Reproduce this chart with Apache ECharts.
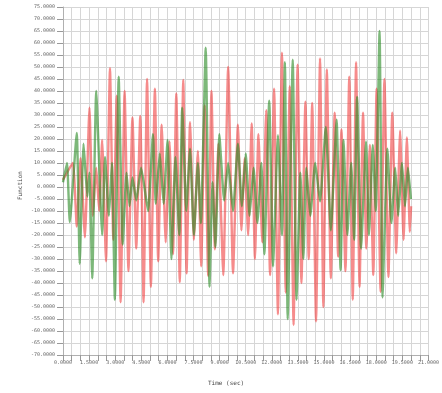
<!DOCTYPE html>
<html>
<head>
<meta charset="utf-8">
<script src="https://cdn.jsdelivr.net/npm/echarts@6/dist/echarts.min.js"></script>
<style>
  html, body { margin: 0; padding: 0; background: #ffffff; }
  #chart { width: 442px; height: 393px; }
</style>
</head>
<body>
<div id="chart"></div>
<script>
// Red response: sample times (sec) and function values
const redTime = [0.00, 0.56, 0.79, 1.01, 1.26, 1.52, 1.71, 1.91, 2.08, 2.25, 2.47, 2.70, 2.89, 3.09, 3.31,
  3.54, 3.76, 3.99, 4.21, 4.44, 4.63, 4.83, 5.05, 5.28, 5.47, 5.67, 5.90, 6.12, 6.32, 6.51, 6.71,
  6.91, 7.10, 7.30, 7.52, 7.75, 7.94, 8.14, 8.34, 8.53, 8.73, 8.93, 9.21, 9.49, 9.77, 10.05, 10.25,
  10.44, 10.64, 10.84, 11.03, 11.23, 11.45, 11.68, 11.90, 12.13, 12.35, 12.58, 12.80, 13.03, 13.25,
  13.48, 13.70, 13.93, 14.12, 14.32, 14.54, 14.77, 14.96, 15.16, 15.39, 15.61, 15.81, 16.00, 16.23,
  16.45, 16.65, 16.84, 17.04, 17.24, 17.43, 17.63, 17.83, 18.02, 18.25, 18.47, 18.70, 18.92, 19.15,
  19.37, 19.57, 19.76, 19.93, 20.00];
const redValue = [3, 10, -16.5, 12, -21, 33, -12, 8, -10, 19.6, -31, 49.5, -22, 38, -48,
  40, -35, 29, -25.6, 29.6, -48, 45, -41.6, 41, -31, 26, -23, 19, -28, 39, -39.6,
  44.6, -36, 27, -22, 15, -33, 34, -37, 40, -26, 18, -36.7, 50, -36, 26, -18,
  12, -20, 26.5, -30, 22, -23, 32, -36.7, 41, -53, 56, -44, 42, -57.5,
  51, -40, 35.5, -30, 35, -56, 53.6, -50, 49, -38, 31, -29, 24, -35,
  46, -47, 52, -41.6, 31, -25.6, 17.5, -36.7, 41, -43.7, 45, -37.5, 31, -27.6,
  23.5, -22, 20.6, -18.7, -8];

// Green response: sample times (sec) and function values
const greenTime = [0.00, 0.23, 0.39, 0.79, 0.96, 1.18, 1.40, 1.52, 1.68, 1.91, 2.25, 2.41, 2.64, 2.81,
  2.98, 3.20, 3.43, 3.65, 3.82, 3.99, 4.21, 4.49, 4.89, 5.17, 5.33, 5.56, 5.78, 6.01, 6.23, 6.46,
  6.68, 6.85, 7.08, 7.30, 7.52, 7.75, 7.92, 8.20, 8.42, 8.59, 8.76, 8.98, 9.26, 9.49, 9.77, 10.05,
  10.28, 10.50, 10.72, 10.95, 11.17, 11.40, 11.57, 11.85, 12.07, 12.35, 12.58, 12.75, 12.91, 13.20,
  13.42, 13.64, 13.81, 13.98, 14.21, 14.49, 14.77, 15.10, 15.39, 15.72, 15.95, 16.12, 16.34, 16.56,
  16.73, 16.90, 17.13, 17.41, 17.58, 17.80, 17.97, 18.19, 18.36, 18.64, 18.87, 19.09, 19.26, 19.48,
  19.65, 19.82, 19.99];
const greenValue = [2, 10, -14.6, 22.5, -32, 18, -4, 6, -38, 40, -20, 12.5, -12, 10,
  -47, 46, -24, 6, -8, 4, -5.6, 8, -10, 22, -7, 14, -7, 19.6, -30, 12.5,
  -20, 33, -10, 16, -20, 10, -15, 58, -41.6, 2, -25, 22, -5.6, 10, -10, 18,
  -8, 14, -12, 8, -15, 10, -28, 36, -33, 21.6, -20, 52, -55, 53,
  -47, 6, -30, 8, -12, 10, -6, 25, -18, 28, -34.6, 19.6, -20, 10,
  -22, 37.5, -25.6, 19, -20, 17.5, -10, 65, -46, 16, -15, 8, -12, 10,
  -8, 8, -5];

// Axis ranges and tick steps
const xMin = 0, xMax = 21, xStep = 1.5;
const yMin = -70, yMax = 75, yStep = 5;
const xTitle = 'Time (sec)';
const yTitle = 'Function';

const pairs = (ts, vs) => ts.map((t, i) => [t, vs[i]]);

const labelFont = { fontFamily: 'DejaVu Sans Mono', fontSize: 5, color: '#666' };
const gridLine = { lineStyle: { color: '#d6d6d6', width: 1 } };
const axisLine = { lineStyle: { color: '#b0b0b0', width: 1 } };

const chart = echarts.init(document.getElementById('chart'), null, { renderer: 'canvas' });
chart.setOption({
  backgroundColor: '#ffffff',
  animation: false,
  grid: { left: 63, right: 5, top: 7, bottom: 38, containLabel: false },
  xAxis: {
    type: 'value', min: xMin, max: xMax, interval: xStep,
    axisLine: { show: true, onZero: false, ...axisLine },
    axisTick: { show: true, length: 6, lineStyle: { color: '#999' } },
    minorTick: { show: true, splitNumber: 3, length: 6, lineStyle: { color: '#999' } },
    splitLine: { show: true, ...gridLine },
    minorSplitLine: { show: true, ...gridLine },
    axisLabel: { ...labelFont, margin: 5, formatter: v => v.toFixed(4) }
  },
  yAxis: {
    type: 'value', min: yMin, max: yMax, interval: yStep,
    axisLine: { show: true, onZero: false, ...axisLine },
    axisTick: { show: true, length: 6, lineStyle: { color: '#999' } },
    splitLine: { show: true, ...gridLine },
    axisLabel: { ...labelFont, margin: 8, formatter: v => v.toFixed(4) }
  },
  graphic: [
    { type: 'text', left: 208, top: 380,
      style: { text: xTitle, fontFamily: 'DejaVu Sans Mono', fontSize: 6, fill: '#444' } },
    { type: 'text', x: 17, y: 200, rotation: Math.PI / 2,
      style: { text: yTitle, fontFamily: 'DejaVu Sans Mono', fontSize: 6, fill: '#444' } }
  ],
  series: [
    {
      name: 'red', type: 'line', data: pairs(redTime, redValue),
      showSymbol: false, smooth: 0.15,
      lineStyle: { color: 'rgba(240,70,70,0.62)', width: 2.4 }
    },
    {
      name: 'green', type: 'line', data: pairs(greenTime, greenValue),
      showSymbol: false, smooth: 0.15,
      lineStyle: { color: 'rgba(45,140,40,0.62)', width: 2.4 }
    }
  ]
});
</script>
</body>
</html>
